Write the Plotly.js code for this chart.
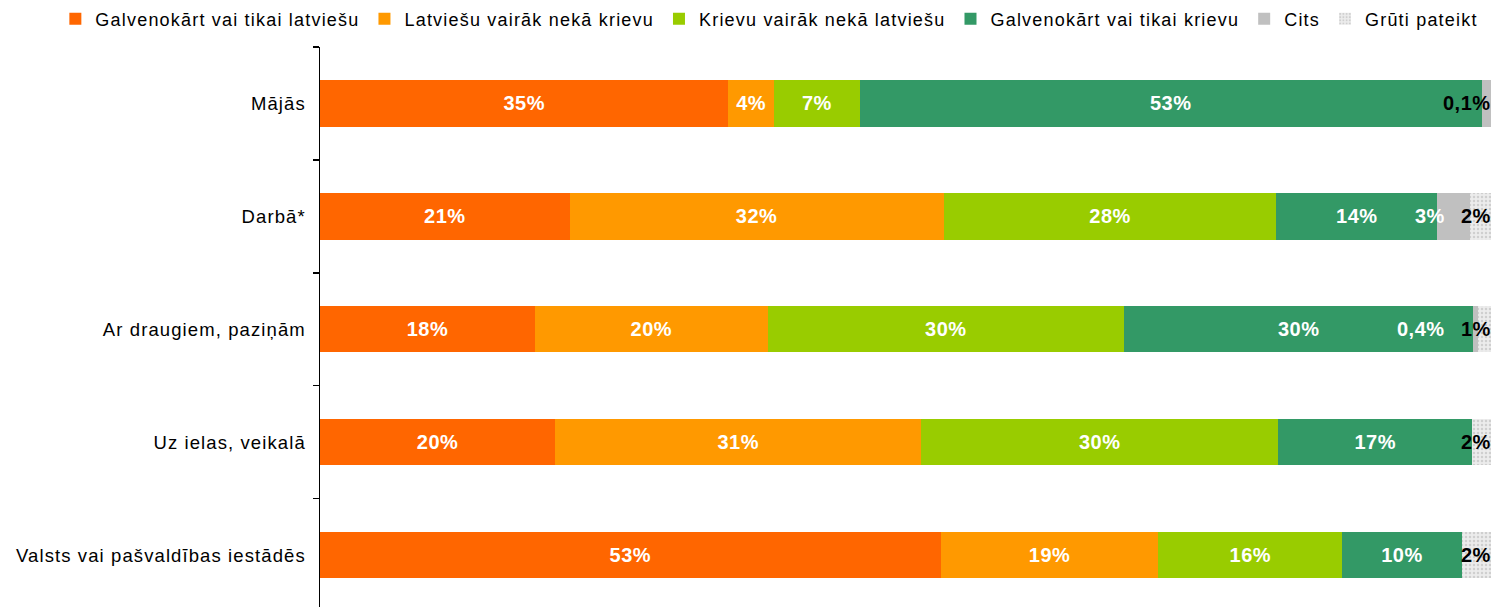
<!DOCTYPE html>
<html>
<head>
<meta charset="utf-8">
<script src="https://cdn.plot.ly/plotly-3.0.1.min.js"></script>
<style>
  html, body { margin: 0; padding: 0; background: #fff; }
  #chart { width: 1491px; height: 607px; }
  /* the source text is set a little wider than Arial */
  .legendtext { letter-spacing: 1.2px; }
  .ytick text { letter-spacing: 1.1px; }
  .bartext, .annotation-text { letter-spacing: 0.5px; }
</style>
</head>
<body>
<div id="chart"></div>
<script>
// Categories (top to bottom)
const categories = ['Mājās', 'Darbā*', 'Ar draugiem, paziņām', 'Uz ielas, veikalā', 'Valsts vai pašvaldības iestādēs'];

// Series names
const seriesNames = ['Galvenokārt vai tikai latviešu', 'Latviešu vairāk nekā krievu', 'Krievu vairāk nekā latviešu',
                     'Galvenokārt vai tikai krievu', 'Cits', 'Grūti pateikt'];

// Bar widths (%)
const lvOnly    = [34.8, 21.3, 18.4, 20.1, 53.0];
const lvMore    = [3.9, 31.9, 19.9, 31.3, 18.6];
const ruMore    = [7.3, 28.4, 30.5, 30.5, 15.7];
const ruOnly    = [53.0, 13.7, 29.9, 16.6, 10.2];
const other     = [0.8, 2.8, 0.4, 0, 0];
const hardToSay = [0, 1.8, 1.1, 1.6, 2.5];

// Printed labels
const lvOnlyLbl = ['35%', '21%', '18%', '20%', '53%'];
const lvMoreLbl = ['4%', '32%', '20%', '31%', '19%'];
const ruMoreLbl = ['7%', '28%', '30%', '30%', '16%'];
const ruOnlyLbl = ['53%', '14%', '30%', '17%', '10%'];
const otherLbl  = ['', '3%', '0,4%', '', ''];
const hardLbl   = ['0,1%', '2%', '1%', '2%', '2%'];

const colors = ['#ff6600', '#ff9900', '#99cc00', '#339966', '#c0c0c0', '#e4e4e4'];
const values = [lvOnly, lvMore, ruMore, ruOnly, other, hardToSay];
const labels = [lvOnlyLbl, lvMoreLbl, ruMoreLbl, ruOnlyLbl, null, null];

const labelFont = { family: 'Liberation Sans, Arial, sans-serif', size: 20, weight: 'bold' };

const traces = values.map((v, i) => {
    const t = {
        type: 'bar',
        orientation: 'h',
        name: seriesNames[i],
        y: categories,
        x: v,
        marker: { color: colors[i], line: { width: 0 } },
        hoverinfo: 'skip'
    };
    if (i === 5) {
        t.marker.pattern = { shape: '.', fgcolor: '#cfcfcf', bgcolor: '#ececec', size: 4, solidity: 0.3 };
    }
    if (labels[i]) {
        t.text = labels[i];
        t.textposition = 'inside';
        t.insidetextanchor = 'middle';
        t.constraintext = 'none';
        t.textfont = Object.assign({ color: '#ffffff' }, labelFont);
    } else {
        t.textposition = 'none';
    }
    return t;
});

// Small segment labels at the right end
const annotations = [];
categories.forEach((c, k) => {
    if (otherLbl[k]) {
        annotations.push({
            x: 100, y: c, xref: 'x', yref: 'y', text: otherLbl[k], showarrow: false,
            xanchor: 'right', xshift: -44,
            font: Object.assign({ color: '#ffffff' }, labelFont)
        });
    }
    if (hardLbl[k]) {
        annotations.push({
            x: 100, y: c, xref: 'x', yref: 'y', text: hardLbl[k], showarrow: false,
            xanchor: 'right', xshift: 2,
            font: Object.assign({ color: '#000000' }, labelFont)
        });
    }
});

const layout = {
    width: 1491,
    height: 607,
    margin: { l: 320, r: 0, t: 47, b: 0 },
    barmode: 'stack',
    barnorm: 'percent',
    bargap: 0.59,
    paper_bgcolor: '#ffffff',
    plot_bgcolor: '#ffffff',
    font: { family: 'Liberation Sans, Arial, sans-serif', size: 18, color: '#000000' },
    xaxis: {
        range: [0, 100],
        visible: false,
        fixedrange: true
    },
    yaxis: {
        type: 'category',
        range: [4.46, -0.5],
        showline: true,
        linecolor: '#000000',
        linewidth: 1.5,
        ticks: 'outside',
        tickson: 'boundaries',
        ticklen: 6,
        tickwidth: 1.5,
        tickcolor: '#000000',
        showgrid: false,
        zeroline: false,
        ticklabelstandoff: 9,
        tickfont: { size: 18.5 }
    },
    showlegend: true,
    legend: {
        orientation: 'h',
        x: -0.226,
        xanchor: 'left',
        y: 1.083,
        yanchor: 'top',
        traceorder: 'normal',
        font: { family: 'Liberation Sans, Arial, sans-serif', size: 18 },
        itemwidth: 30,
        bgcolor: 'rgba(0,0,0,0)'
    },
    annotations: annotations
};

Plotly.newPlot('chart', traces, layout, { displayModeBar: false, staticPlot: true });
</script>
</body>
</html>
